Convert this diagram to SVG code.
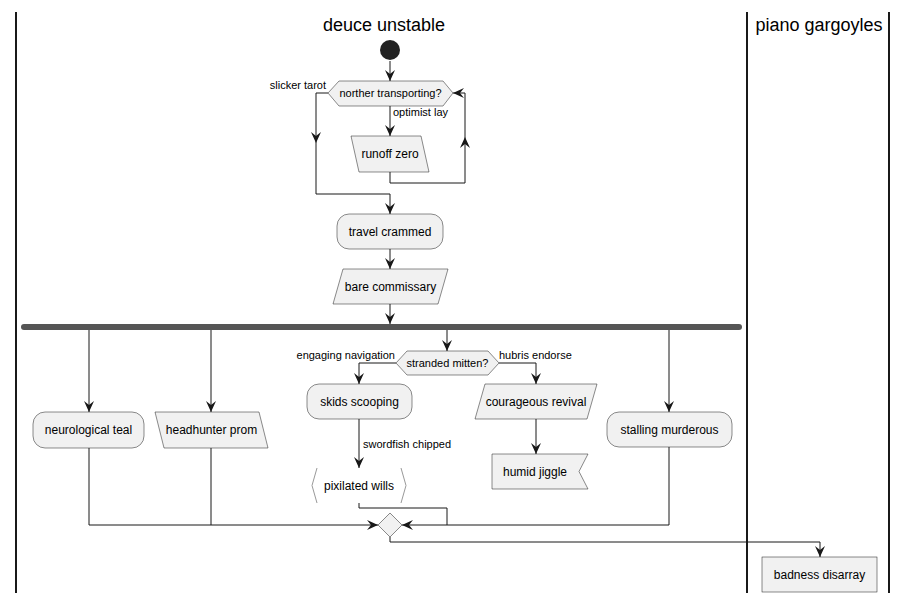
<svg xmlns="http://www.w3.org/2000/svg" width="907" height="603" viewBox="0 0 907 603">
<style>
.lane{stroke:#000;stroke-width:1.8;fill:none}
.title{font-family:"Liberation Sans",Arial,sans-serif;font-size:18px;fill:#000;text-anchor:middle}
.node{fill:#F1F1F1;stroke:#181818;stroke-width:0.5}
.t{font-family:"Liberation Sans",Arial,sans-serif;font-size:12px;fill:#000;text-anchor:middle}
.d{font-family:"Liberation Sans",Arial,sans-serif;font-size:11px;fill:#000;text-anchor:middle}
.lbl{font-family:"Liberation Sans",Arial,sans-serif;font-size:11px;fill:#000}
.c{fill:none;stroke:#181818;stroke-width:1}
.ca{fill:none;stroke:#181818;stroke-width:1;marker-end:url(#ah)}
</style>
<defs>
<marker id="ah" markerUnits="userSpaceOnUse" markerWidth="11" markerHeight="10" viewBox="0 0 11 10" refX="11" refY="5" orient="auto">
<path d="M0,0 L11,5 L0,10 L4,5 Z" fill="#181818"/>
</marker>
</defs>
<g id="lanes">
<line class="lane" x1="16" y1="12" x2="16" y2="593"/>
<line class="lane" x1="747" y1="12" x2="747" y2="593"/>
<line class="lane" x1="889" y1="12" x2="889" y2="593"/>
<text class="title" x="384" y="31">deuce unstable</text>
<text class="title" x="819" y="31">piano gargoyles</text>
</g>
<g id="connectors">
<path class="ca" d="M390,61 V81"/>
<path class="ca" d="M390,106 V136"/>
<path class="ca" d="M328,93 H316 V143"/>
<path class="ca" d="M316,143 V194 H390 V214"/>
<path class="ca" d="M390,172 V183 H465 V137"/>
<path class="ca" d="M465,137 V93 H453"/>
<path class="ca" d="M390,249 V269"/>
<path class="ca" d="M390,304 V324"/>
<path class="ca" d="M89,330 V412"/>
<path class="ca" d="M211,330 V412"/>
<path class="ca" d="M447,330 V351"/>
<path class="ca" d="M669,330 V412"/>
<path class="ca" d="M396,363 H359 V384"/>
<path class="ca" d="M499,363 H536 V384"/>
<path class="ca" d="M359,419 V468"/>
<path class="ca" d="M536,419 V454"/>
<path class="ca" d="M89,448 V525 H378"/>
<path class="c" d="M211,448 V525"/>
<path class="ca" d="M669,447 V525 H402"/>
<path class="c" d="M359,503 V508 H447 V525"/>
<path class="ca" d="M390,537 V542 H820 V557"/>
<text class="lbl" x="326" y="89" text-anchor="end">slicker tarot</text>
<text class="lbl" x="393" y="116">optimist lay</text>
<text class="lbl" x="395" y="359" text-anchor="end">engaging navigation</text>
<text class="lbl" x="499" y="359">hubris endorse</text>
<text class="lbl" x="363" y="448">swordfish chipped</text>
</g>
<g id="start"><circle cx="390" cy="50" r="10" fill="#222"/></g>
<g id="d1">
<polygon class="node" points="328,93 339,81 443,81 453,93 443,106 339,106"/>
<text class="d" x="390.5" y="97">norther transporting?</text>
</g>
<g id="runoff">
<polygon class="node" points="351,136 421,136 429,172 359,172"/>
<text class="t" x="390" y="158">runoff zero</text>
</g>
<g id="travel">
<rect class="node" x="337" y="214" width="106" height="35" rx="12"/>
<text class="t" x="390" y="236">travel crammed</text>
</g>
<g id="bare">
<polygon class="node" points="343,269 448,269 438,304 333,304"/>
<text class="t" x="390.5" y="291">bare commissary</text>
</g>
<g id="fork"><rect x="21" y="324" width="721" height="6" rx="3" fill="#555555"/></g>
<g id="neuro">
<rect class="node" x="33" y="412" width="111" height="36" rx="12"/>
<text class="t" x="88.5" y="434">neurological teal</text>
</g>
<g id="headhunter">
<polygon class="node" points="155,412 259,412 268,448 164,448"/>
<text class="t" x="211.5" y="434">headhunter prom</text>
</g>
<g id="d2">
<polygon class="node" points="396,363 407,351 488,351 499,363 488,375 407,375"/>
<text class="d" x="447.5" y="367">stranded mitten?</text>
</g>
<g id="skids">
<rect class="node" x="307" y="384" width="105" height="35" rx="12"/>
<text class="t" x="359.5" y="406">skids scooping</text>
</g>
<g id="pixilated">
<polyline points="317,468 312,485.5 317,503" fill="none" stroke="#999" stroke-width="1"/>
<polyline points="401,468 406,485.5 401,503" fill="none" stroke="#999" stroke-width="1"/>
<text class="t" x="359" y="490">pixilated wills</text>
</g>
<g id="courageous">
<polygon class="node" points="485,384 597,384 587,419 475,419"/>
<text class="t" x="536" y="406">courageous revival</text>
</g>
<g id="humid">
<polygon class="node" points="492,454 588,454 579,471.5 588,489 492,489"/>
<text class="t" x="535" y="476">humid jiggle</text>
</g>
<g id="stalling">
<rect class="node" x="607" y="412" width="125" height="35" rx="12"/>
<text class="t" x="669.5" y="434">stalling murderous</text>
</g>
<g id="merge">
<polygon class="node" points="390,513 402,525 390,537 378,525"/>
</g>
<g id="badness">
<rect class="node" x="762" y="557" width="115" height="35"/>
<text class="t" x="819.5" y="579">badness disarray</text>
</g>
</svg>
